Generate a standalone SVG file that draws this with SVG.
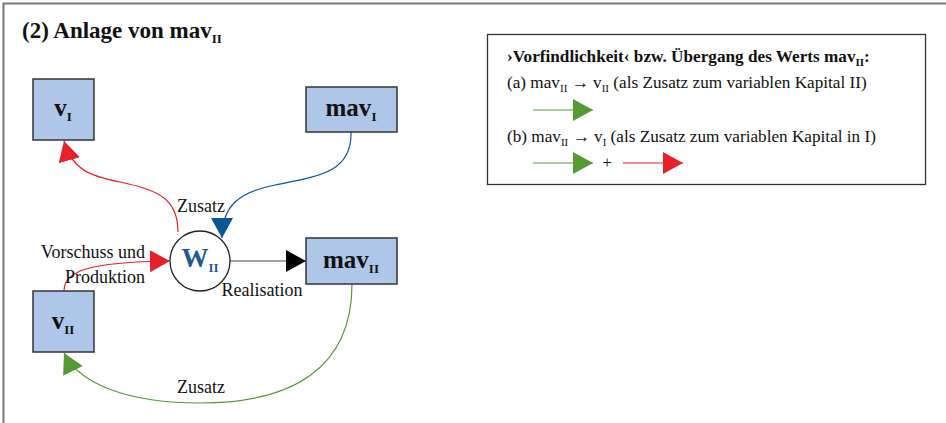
<svg xmlns="http://www.w3.org/2000/svg" width="946" height="423" viewBox="0 0 946 423">
<style>
text, tspan{font-family:'Liberation Serif', 'DejaVu Serif', serif;fill:#111}
.node{fill:#aec6e8;stroke:#333;stroke-width:1.5}
.nl{font-size:25px;font-weight:bold;text-anchor:middle}
.sub{font-size:13px}
.lbl{font-size:18px}
.leg{font-size:17.2px}
.lsub{font-size:11px}
.c{fill:none;stroke-width:1.2}
</style>
<defs>
<marker id="aR" markerUnits="userSpaceOnUse" markerWidth="20" markerHeight="22" refX="20" refY="11" orient="auto"><path d="M0,0 L20,11 L0,22 z" fill="#e8202a"/></marker>
<marker id="aG" markerUnits="userSpaceOnUse" markerWidth="20" markerHeight="22" refX="20" refY="11" orient="auto"><path d="M0,0 L20,11 L0,22 z" fill="#559a35"/></marker>
<marker id="aB" markerUnits="userSpaceOnUse" markerWidth="20" markerHeight="22" refX="20" refY="11" orient="auto"><path d="M0,0 L20,11 L0,22 z" fill="#0a5596"/></marker>
<marker id="aK" markerUnits="userSpaceOnUse" markerWidth="20" markerHeight="22" refX="20" refY="11" orient="auto"><path d="M0,0 L20,11 L0,22 z" fill="#000"/></marker>
</defs>
<rect x="3.5" y="3.5" width="960" height="440" fill="#fff" stroke="#777" stroke-width="2"/>
<g font-family="Liberation Serif, DejaVu Serif, serif">
<text x="22" y="38" style="font-size:23px;font-weight:bold">(2) Anlage von mav<tspan class="sub" dy="5">II</tspan></text>

<g id="connectors">
<path class="c" d="M178,232 C178,200 160,190 120,182 C90,176 72,170 64,141" stroke="#e8202a" marker-end="url(#aR)"/>
<path class="c" d="M351,132 C352,172 320,176 275,185 C240,192 222,205 222,238" stroke="#0a5596" marker-end="url(#aB)"/>
<path class="c" d="M230,261 L306,261" stroke="#444" marker-end="url(#aK)"/>
<path class="c" d="M64,291 C64,272 85,262 170,261" stroke="#e8202a" marker-end="url(#aR)"/>
<path class="c" d="M352,284 C352,370 290,403 200,403 C130,403 80,385 64,353" stroke="#559a35" marker-end="url(#aG)"/>
<text class="lbl" x="201" y="212" text-anchor="middle">Zusatz</text>
<text class="lbl" x="145" y="258" text-anchor="end">Vorschuss und</text>
<text class="lbl" x="145" y="283" text-anchor="end">Produktion</text>
<text class="lbl" x="262" y="296" text-anchor="middle">Realisation</text>
<text class="lbl" x="201" y="393" text-anchor="middle">Zusatz</text>
</g>

<g id="vI"><rect class="node" x="33" y="79" width="61" height="61"/><text class="nl" x="63" y="116">v<tspan class="sub" dy="5">I</tspan></text></g>
<g id="mavI"><rect class="node" x="306" y="87" width="91" height="45"/><text class="nl" x="351" y="116">mav<tspan class="sub" dy="5">I</tspan></text></g>
<g id="WII"><circle cx="200" cy="261" r="30" fill="#fff" stroke="#222" stroke-width="1.3"/><text class="nl" x="200" y="267" style="fill:#1d5a96;font-size:27px">W<tspan class="sub" dy="5" style="fill:#1d5a96">II</tspan></text></g>
<g id="mavII"><rect class="node" x="306" y="238" width="91" height="46"/><text class="nl" x="351" y="268">mav<tspan class="sub" dy="5">II</tspan></text></g>
<g id="vII"><rect class="node" x="33" y="291" width="61" height="61"/><text class="nl" x="63" y="329">v<tspan class="sub" dy="5">II</tspan></text></g>

<g id="legend">
<rect x="487.5" y="34.5" width="438" height="150" fill="#fff" stroke="#333" stroke-width="1.3"/>
<text class="leg" x="507" y="62" style="font-weight:bold">›Vorfindlichkeit‹ bzw. Übergang des Werts mav<tspan class="lsub" dy="4">II</tspan><tspan dy="-4">:</tspan></text>
<text class="leg" x="507" y="88">(a) mav<tspan class="lsub" dy="4">II</tspan><tspan dy="-4"> → v</tspan><tspan class="lsub" dy="4">II</tspan><tspan dy="-4"> (als Zusatz zum variablen Kapital II)</tspan></text>
<path class="c" d="M533,110 L593,110" stroke="#559a35" marker-end="url(#aG)"/>
<text class="leg" x="507" y="142">(b) mav<tspan class="lsub" dy="4">II</tspan><tspan dy="-4"> → v</tspan><tspan class="lsub" dy="4">I</tspan><tspan dy="-4"> (als Zusatz zum variablen Kapital in I)</tspan></text>
<path class="c" d="M533,163 L593,163" stroke="#559a35" marker-end="url(#aG)"/>
<text class="leg" x="607" y="168" text-anchor="middle">+</text>
<path class="c" d="M623,163 L683,163" stroke="#e8202a" marker-end="url(#aR)"/>
</g>
</g>
</svg>
